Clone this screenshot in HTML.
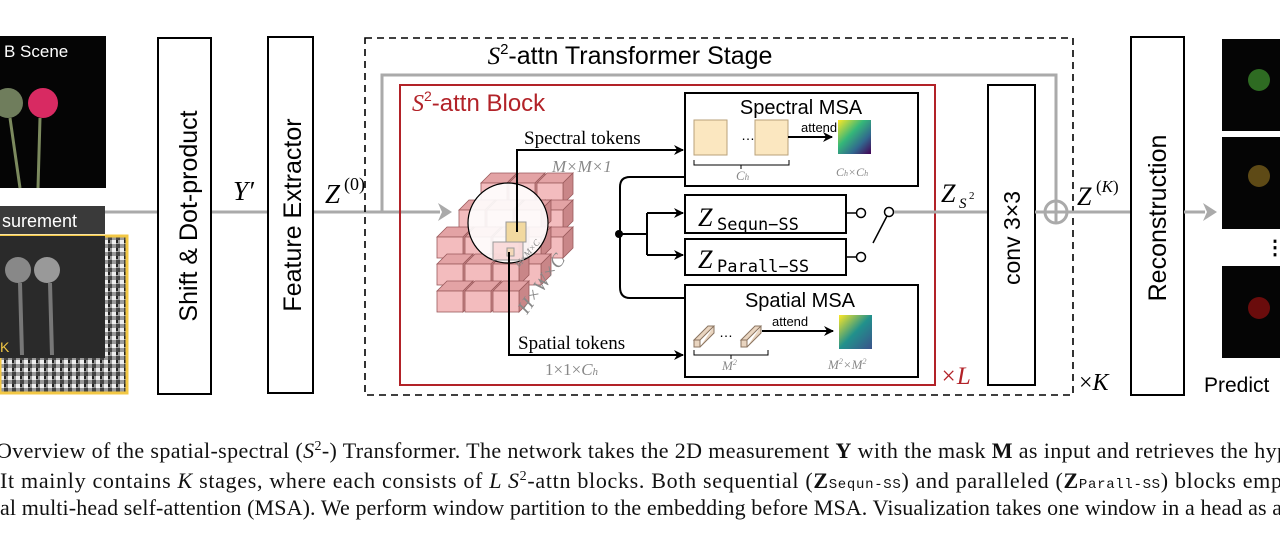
<!DOCTYPE html>
<html><head><meta charset="utf-8"><style>
html,body{margin:0;padding:0;background:#fff;width:1280px;height:545px;overflow:hidden}
svg{display:block}
.s{font-family:"Liberation Sans",sans-serif}
.m{font-family:"Liberation Serif",serif}
</style></head><body>
<svg width="1280" height="545" viewBox="0 0 1280 545" xmlns="http://www.w3.org/2000/svg">
<defs>
<marker id="ab" markerWidth="10" markerHeight="10" refX="9" refY="5" orient="auto" markerUnits="userSpaceOnUse"><path d="M0,0 L10,5 L0,10 L3,5z" fill="#000"/></marker>
<linearGradient id="hm1" x1="0" y1="0" x2="1" y2="1"><stop offset="0" stop-color="#fde725"/><stop offset=".4" stop-color="#35b779"/><stop offset=".7" stop-color="#31688e"/><stop offset="1" stop-color="#440154"/></linearGradient>
<linearGradient id="hm2" x1="0" y1="0" x2="1" y2="1"><stop offset="0" stop-color="#fde725"/><stop offset=".5" stop-color="#21918c"/><stop offset="1" stop-color="#3b528b"/></linearGradient>
<pattern id="noise" width="8" height="8" patternUnits="userSpaceOnUse"><rect width="8" height="8" fill="#999"/><rect width="4" height="4" fill="#eee"/><rect x="4" y="4" width="4" height="4" fill="#444"/><rect x="4" width="2" height="3" fill="#222"/></pattern>
<g id="blk"><path d="M0,0 l10,-10 h26 l-10,10z" fill="#e3a3a5" stroke="#9a5a5c" stroke-width=".8"/><path d="M26,0 l10,-10 v21 l-10,10z" fill="#c98688" stroke="#9a5a5c" stroke-width=".8"/><rect width="26" height="21" fill="#f3bcbe" stroke="#9a5a5c" stroke-width=".8"/></g>
</defs>
<rect width="1280" height="545" fill="#fff"/>
<rect x="0" y="36" width="106" height="152" fill="#050505"/>
<text x="4" y="57" class="s" font-size="17" fill="#fff">B Scene</text>
<circle cx="8" cy="103" r="15" fill="#6f7d5c"/>
<circle cx="43" cy="103" r="15" fill="#d82a62"/>
<path d="M10,118 L20,188 M40,118 L38,188" stroke="#7c8a5e" stroke-width="3"/>
<rect x="0" y="236" width="127" height="157" fill="url(#noise)"/>
<rect x="0" y="236" width="127" height="157" fill="none" stroke="#f2c744" stroke-width="3"/>
<rect x="0" y="236" width="105" height="122" fill="#2a2a2a"/>
<circle cx="18" cy="270" r="13" fill="#888"/><circle cx="47" cy="270" r="13" fill="#999"/>
<path d="M20,283 L22,355 M50,283 L52,355" stroke="#777" stroke-width="4"/>
<text x="0" y="352" class="s" font-size="14" fill="#f2c744">K</text>
<rect x="0" y="206" width="105" height="28" fill="#3a3a3a"/>
<text x="2" y="227" class="s" font-size="18" fill="#fff">surement</text>
<line x1="105" y1="212" x2="160" y2="212" stroke="#aaa" stroke-width="3"/>
<line x1="211" y1="212" x2="268" y2="212" stroke="#aaa" stroke-width="3"/>
<line x1="313" y1="212" x2="440" y2="212" stroke="#aaa" stroke-width="3"/>
<path d="M438,203 L452,212 L438,221 L442,212z" fill="#aaa"/>
<rect x="158" y="38" width="53" height="356" fill="#fff" stroke="#000" stroke-width="2"/>
<text transform="translate(197,216) rotate(-90)" text-anchor="middle" class="s" font-size="25">Shift &amp; Dot-product</text>
<rect x="268" y="37" width="45" height="356" fill="#fff" stroke="#000" stroke-width="2"/>
<text transform="translate(301,215) rotate(-90)" text-anchor="middle" class="s" font-size="25">Feature Extractor</text>
<text x="233" y="200" class="m" font-style="italic" font-size="27">Y′</text>
<text x="325" y="203" class="m" font-style="italic" font-size="27">Z</text><text x="344" y="190" class="m" font-size="18">(0)</text>
<rect x="365" y="38" width="708" height="357" fill="none" stroke="#000" stroke-width="1.6" stroke-dasharray="7,5"/>
<text x="630" y="64" text-anchor="middle" class="s" font-size="25"><tspan class="m" font-style="italic">S</tspan><tspan font-size="15" dy="-10">2</tspan><tspan dy="10">-attn Transformer Stage</tspan></text>
<path d="M382,212 L382,75 L1056,75 L1056,212" fill="none" stroke="#aaa" stroke-width="3"/>
<rect x="400" y="85" width="535" height="300" fill="none" stroke="#b22228" stroke-width="2"/>
<text x="412" y="111" class="s" font-size="24" fill="#b22228"><tspan class="m" font-style="italic">S</tspan><tspan font-size="14" dy="-10">2</tspan><tspan dy="10">-attn Block</tspan></text>
<g>
<use href="#blk" x="481" y="183"/><use href="#blk" x="509" y="183"/><use href="#blk" x="537" y="183"/>
<use href="#blk" x="481" y="210"/><use href="#blk" x="509" y="210"/><use href="#blk" x="537" y="210"/>
<use href="#blk" x="481" y="237"/><use href="#blk" x="509" y="237"/><use href="#blk" x="537" y="237"/>
<use href="#blk" x="459" y="210"/><use href="#blk" x="487" y="210"/><use href="#blk" x="515" y="210"/>
<use href="#blk" x="459" y="237"/><use href="#blk" x="487" y="237"/><use href="#blk" x="515" y="237"/>
<use href="#blk" x="459" y="264"/><use href="#blk" x="487" y="264"/><use href="#blk" x="515" y="264"/>
<use href="#blk" x="437" y="237"/><use href="#blk" x="465" y="237"/><use href="#blk" x="493" y="237"/>
<use href="#blk" x="437" y="264"/><use href="#blk" x="465" y="264"/><use href="#blk" x="493" y="264"/>
<use href="#blk" x="437" y="291"/><use href="#blk" x="465" y="291"/><use href="#blk" x="493" y="291"/>
</g>
<circle cx="508" cy="223" r="40" fill="#fff" fill-opacity=".9" stroke="#000" stroke-width="1.2"/>
<rect x="506" y="222" width="20" height="20" fill="#f2d9a0" stroke="#999"/>
<rect x="493" y="242" width="30" height="18" fill="#f5c7c7" stroke="#999" fill-opacity=".6"/>
<rect x="507" y="248" width="7" height="8" fill="#f3d8b8" stroke="#999"/>
<text transform="translate(519,268) rotate(-50)" class="m" font-style="italic" font-size="9" fill="#888">M×M×C</text>
<text transform="translate(527,315) rotate(-55)" class="m" font-style="italic" font-size="19" fill="#888">H×W×C</text>
<path d="M517,232 L517,150 L683,150" fill="none" stroke="#000" stroke-width="2" marker-end="url(#ab)"/>
<path d="M509,252 L509,355 L683,355" fill="none" stroke="#000" stroke-width="2" marker-end="url(#ab)"/>
<text x="524" y="144" class="m" font-size="19">Spectral tokens</text>
<text x="552" y="172" class="m" font-style="italic" font-size="17" fill="#888">M×M×1</text>
<text x="518" y="349" class="m" font-size="19">Spatial tokens</text>
<text x="545" y="375" class="m" font-size="17" fill="#888">1×1×<tspan font-style="italic">C</tspan><tspan font-size="11" font-style="italic">h</tspan></text>
<path d="M685,177 L630,177 Q620,177 620,187 L620,287 Q620,298 630,298 L685,298" fill="none" stroke="#000" stroke-width="2"/>
<circle cx="619" cy="234" r="4" fill="#000"/>
<path d="M619,234 L647,234 M647,213 L647,255" fill="none" stroke="#000" stroke-width="2"/>
<path d="M647,213 L683,213" stroke="#000" stroke-width="2" marker-end="url(#ab)"/>
<path d="M647,255 L683,255" stroke="#000" stroke-width="2" marker-end="url(#ab)"/>
<rect x="685" y="93" width="233" height="93" fill="#fff" stroke="#000" stroke-width="2"/>
<text x="801" y="114" text-anchor="middle" class="s" font-size="20">Spectral MSA</text>
<rect x="694" y="120" width="33" height="35" fill="#fbe7c0" stroke="#b9a27a"/>
<rect x="755" y="120" width="33" height="35" fill="#fbe7c0" stroke="#b9a27a"/>
<text x="741" y="140" class="s" font-size="14">…</text>
<line x1="788" y1="137" x2="832" y2="137" stroke="#000" stroke-width="2" marker-end="url(#ab)"/>
<text x="801" y="132" class="s" font-size="13">attend</text>
<rect x="838" y="120" width="33" height="34" fill="url(#hm1)"/>
<path d="M694,160 v5 h95 v-5 M741,165 v4" fill="none" stroke="#000" stroke-width="1"/>
<text x="736" y="180" class="m" font-style="italic" font-size="13" fill="#888">C<tspan font-size="9">h</tspan></text>
<text x="836" y="176" class="m" font-style="italic" font-size="12" fill="#888">C<tspan font-size="8">h</tspan>×C<tspan font-size="8">h</tspan></text>
<rect x="685" y="195" width="161" height="38" fill="#fff" stroke="#000" stroke-width="2"/>
<text x="698" y="226" class="m" font-style="italic" font-size="26">Z</text><text x="717" y="230" font-family="DejaVu Sans Mono,monospace" font-size="17">Sequn−SS</text>
<rect x="685" y="239" width="161" height="36" fill="#fff" stroke="#000" stroke-width="2"/>
<text x="698" y="268" class="m" font-style="italic" font-size="26">Z</text><text x="717" y="272" font-family="DejaVu Sans Mono,monospace" font-size="17">Parall−SS</text>
<path d="M846,213 h10 M846,257 h10" stroke="#000" stroke-width="1.5"/>
<circle cx="861" cy="213" r="4.5" fill="#fff" stroke="#000" stroke-width="1.5"/>
<circle cx="861" cy="257" r="4.5" fill="#fff" stroke="#000" stroke-width="1.5"/>
<circle cx="889" cy="212" r="4.5" fill="#fff" stroke="#000" stroke-width="1.5"/>
<line x1="887" y1="216" x2="873" y2="243" stroke="#000" stroke-width="1.5"/>
<line x1="894" y1="212" x2="988" y2="212" stroke="#aaa" stroke-width="3"/>
<rect x="685" y="285" width="233" height="92" fill="#fff" stroke="#000" stroke-width="2"/>
<text x="800" y="307" text-anchor="middle" class="s" font-size="20">Spatial MSA</text>
<path d="M694,340 l14,-14 h6 l-14,14z M694,340 h6 v7 h-6z M700,347 l14,-14 v-7" fill="#e9d5c0" stroke="#8a7460"/>
<path d="M741,340 l14,-14 h6 l-14,14z M741,340 h6 v7 h-6z M747,347 l14,-14 v-7" fill="#e9d5c0" stroke="#8a7460"/>
<text x="719" y="337" class="s" font-size="14">…</text>
<line x1="762" y1="331" x2="833" y2="331" stroke="#000" stroke-width="2" marker-end="url(#ab)"/>
<text x="772" y="326" class="s" font-size="13">attend</text>
<rect x="839" y="315" width="33" height="34" fill="url(#hm2)"/>
<path d="M694,350 v5 h74 v-5 M731,355 v4" fill="none" stroke="#000" stroke-width="1"/>
<text x="722" y="370" class="m" font-style="italic" font-size="13" fill="#888">M<tspan font-size="8" dy="-5">2</tspan></text>
<text x="828" y="369" class="m" font-style="italic" font-size="13" fill="#888">M<tspan font-size="8" dy="-5">2</tspan><tspan dy="5">×M</tspan><tspan font-size="8" dy="-5">2</tspan></text>
<text x="940" y="384" class="m" font-style="italic" font-size="25" fill="#b22228">×L</text>
<text x="941" y="202" class="m" font-style="italic" font-size="26">Z</text><text x="959" y="208" class="m" font-style="italic" font-size="15">S</text><text x="969" y="199" class="m" font-size="11">2</text>
<rect x="988" y="85" width="47" height="300" fill="#fff" stroke="#000" stroke-width="2"/>
<text transform="translate(1020,238) rotate(-90)" text-anchor="middle" class="s" font-size="23">conv 3×3</text>
<line x1="1035" y1="212" x2="1131" y2="212" stroke="#aaa" stroke-width="3"/>
<circle cx="1056" cy="212" r="11" fill="#fff" stroke="#aaa" stroke-width="3"/>
<path d="M1045,212 h22 M1056,201 v22" stroke="#aaa" stroke-width="3"/>
<text x="1077" y="205" class="m" font-style="italic" font-size="26">Z</text><text x="1096" y="192" class="m" font-size="17">(<tspan font-style="italic">K</tspan>)</text>
<text x="1079" y="390" class="m" font-size="24">×<tspan font-style="italic">K</tspan></text>
<rect x="1131" y="37" width="53" height="358" fill="#fff" stroke="#000" stroke-width="2"/>
<text transform="translate(1166,218) rotate(-90)" text-anchor="middle" class="s" font-size="25">Reconstruction</text>
<line x1="1184" y1="212" x2="1205" y2="212" stroke="#aaa" stroke-width="3"/>
<path d="M1203,203 L1217,212 L1203,221 L1207,212z" fill="#aaa"/>
<rect x="1222" y="39" width="58" height="92" fill="#050505"/><circle cx="1259" cy="80" r="11" fill="#2e6b22"/>
<rect x="1222" y="137" width="58" height="92" fill="#050505"/><circle cx="1259" cy="176" r="11" fill="#5e4a16"/>
<rect x="1222" y="266" width="58" height="92" fill="#050505"/><circle cx="1259" cy="308" r="11" fill="#6a0c0c"/>
<text x="1265" y="254" class="s" font-size="20" font-weight="bold">⋮</text>
<text x="1204" y="392" class="s" font-size="21">Predict</text>
<g class="m" font-size="22" fill="#111">
<text x="-4" y="458" textLength="1292" lengthAdjust="spacing">Overview of the spatial-spectral (<tspan font-style="italic">S</tspan><tspan font-size="14" dy="-8">2</tspan><tspan dy="8">-) Transformer. The network takes the 2D measurement </tspan><tspan font-weight="bold">Y</tspan> with the mask <tspan font-weight="bold">M</tspan> as input and retrieves the hyp</text>
<text x="0" y="488" textLength="1282" lengthAdjust="spacing">It mainly contains <tspan font-style="italic">K</tspan> stages, where each consists of <tspan font-style="italic">L S</tspan><tspan font-size="14" dy="-8">2</tspan><tspan dy="8">-attn blocks. Both sequential (</tspan><tspan font-weight="bold">Z</tspan><tspan font-family="Liberation Mono,monospace" font-size="14">Sequn-SS</tspan>) and paralleled (<tspan font-weight="bold">Z</tspan><tspan font-family="Liberation Mono,monospace" font-size="14">Parall-SS</tspan>) blocks emp</text>
<text x="0" y="515" textLength="1282" lengthAdjust="spacing">al multi-head self-attention (MSA). We perform window partition to the embedding before MSA. Visualization takes one window in a head as a</text>
</g>
</svg>
</body></html>
